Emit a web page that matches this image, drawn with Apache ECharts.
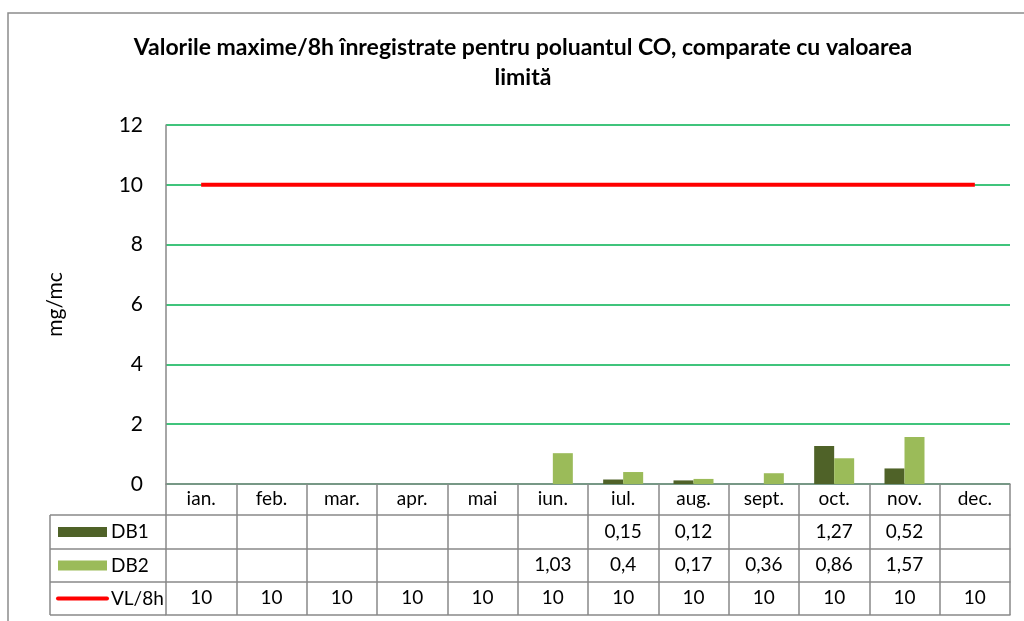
<!DOCTYPE html>
<html>
<head>
<meta charset="utf-8">
<script src="https://cdn.jsdelivr.net/npm/echarts@6/dist/echarts.min.js"></script>
<style>
    html, body { margin: 0; padding: 0; background: #fff; }
    #chart { width: 1024px; height: 621px; }
</style>
</head>
<body>
<div id="chart"></div>
<script>
// date
const months = ['ian.', 'feb.', 'mar.', 'apr.', 'mai', 'iun.', 'iul.', 'aug.', 'sept.', 'oct.', 'nov.', 'dec.'];
const db1 = [null, null, null, null, null, null, 0.15, 0.12, null, 1.27, 0.52, null];
const db2 = [null, null, null, null, null, 1.03, 0.4, 0.17, 0.36, 0.86, 1.57, null];
const vl8h = [10, 10, 10, 10, 10, 10, 10, 10, 10, 10, 10, 10];
const yTicks = [0, 2, 4, 6, 8, 10, 12];

const FONT = 'Lato';
const TABLE_FS = 19;
const gridLine = '#898989';
const colors = { DB1: '#4F6228', DB2: '#9BBB59', 'VL/8h': '#FF0000' };

// format cu virgula zecimala
const fmt = v => (v === null || v === undefined ? '' : String(v).replace('.', ','));

const rowH = [31, 34, 33, 33];
const tableRows = [
    { name: null, vals: null },
    { name: 'DB1', vals: db1 },
    { name: 'DB2', vals: db2 },
    { name: 'VL/8h', vals: vl8h }
];

const chart = echarts.init(document.getElementById('chart'));

/**
 * axele x folosite ca randuri de tabel
 */
function tableAxes() {
    const axes = [];
    let offset = 0;
    tableRows.forEach((row, k) => {
        axes.push({
            type: 'category',
            data: months,
            position: 'bottom',
            offset: offset,
            axisLine: { show: true, lineStyle: { color: gridLine, width: 1.5 } },
            axisTick: { show: true, interval: 0, length: rowH[k], lineStyle: { color: gridLine, width: 1.5 } },
            axisLabel: {
                interval: 0,
                margin: rowH[k] / 2 - 10,
                color: '#000',
                fontFamily: FONT,
                fontSize: TABLE_FS,
                verticalAlign: 'top',
                formatter: (v, i) => (row.vals ? fmt(row.vals[i]) : v)
            },
            splitLine: { show: false }
        });
        offset += rowH[k];
    });
    // linia de jos a tabelului
    axes.push({
        type: 'category',
        data: months,
        position: 'bottom',
        offset: offset,
        axisLine: { show: true, lineStyle: { color: gridLine, width: 1.5 } },
        axisTick: { show: false },
        axisLabel: { show: false }
    });
    return axes;
}

/**
 * coloana din stanga a tabelului (legenda)
 */
function tableHeader() {
    const els = [];
    const left = 50, right = 166;
    let y = 484 + rowH[0];
    const yEnd = 484 + rowH.reduce((a, b) => a + b, 0);
    els.push({ type: 'line', shape: { x1: left, y1: y, x2: left, y2: yEnd }, style: { stroke: gridLine, lineWidth: 1.5 } });
    for (let k = 1; k < tableRows.length; k++) {
        const name = tableRows[k].name;
        const cy = y + rowH[k] / 2;
        els.push({ type: 'line', shape: { x1: left, y1: y, x2: right, y2: y }, style: { stroke: gridLine, lineWidth: 1.5 } });
        if (name === 'VL/8h') {
            els.push({ type: 'line', shape: { x1: 58, y1: cy, x2: 107, y2: cy }, style: { stroke: colors[name], lineWidth: 4, lineCap: 'round' } });
        } else {
            els.push({ type: 'rect', shape: { x: 58, y: cy - 5, width: 49, height: 10 }, style: { fill: colors[name] } });
        }
        els.push({
            type: 'text', x: 111, y: cy,
            style: { text: name, fontFamily: FONT, fontSize: TABLE_FS, fill: '#000', verticalAlign: 'middle' }
        });
        y += rowH[k];
    }
    els.push({ type: 'line', shape: { x1: left, y1: yEnd, x2: right, y2: yEnd }, style: { stroke: gridLine, lineWidth: 1.5 } });
    // chenarul exterior
    els.push({ type: 'rect', shape: { x: 8, y: 13, width: 1040, height: 640 }, style: { fill: null, stroke: '#8c8c8c', lineWidth: 1.5 }, z: -1 });
    return els;
}

chart.setOption({
    animation: false,
    textStyle: { fontFamily: FONT },
    title: {
        text: 'Valorile maxime/8h înregistrate pentru poluantul CO, comparate cu valoarea\nlimită',
        left: 523,
        top: 33,
        padding: 0,
        textAlign: 'center',
        textStyle: { fontFamily: FONT, fontSize: 23, fontWeight: 'bold', color: '#000', lineHeight: 30 }
    },
    grid: { left: 166, right: 14, top: 125, bottom: 137 },
    xAxis: tableAxes(),
    yAxis: {
        type: 'value',
        min: yTicks[0],
        max: yTicks[yTicks.length - 1],
        interval: 2,
        name: 'mg/mc',
        nameLocation: 'middle',
        nameGap: 100,
        nameRotate: 90,
        nameTextStyle: { fontFamily: FONT, fontSize: 21, color: '#000' },
        axisLine: { show: true, lineStyle: { color: gridLine, width: 1.5 } },
        axisTick: { show: false },
        axisLabel: { color: '#000', fontFamily: FONT, fontSize: 21, margin: 23 },
        splitLine: { show: true, lineStyle: { color: '#00B050', width: 1.5 } }
    },
    series: [
        {
            name: 'DB1', type: 'bar', data: db1, barWidth: 20, barGap: '0%',
            itemStyle: { color: colors.DB1 }
        },
        {
            name: 'DB2', type: 'bar', data: db2, barWidth: 20, barGap: '0%',
            itemStyle: { color: colors.DB2 }
        },
        {
            name: 'VL/8h', type: 'line', data: vl8h, symbol: 'none',
            lineStyle: { color: colors['VL/8h'], width: 4 }, z: 3
        }
    ],
    graphic: tableHeader()
});
</script>
</body>
</html>
